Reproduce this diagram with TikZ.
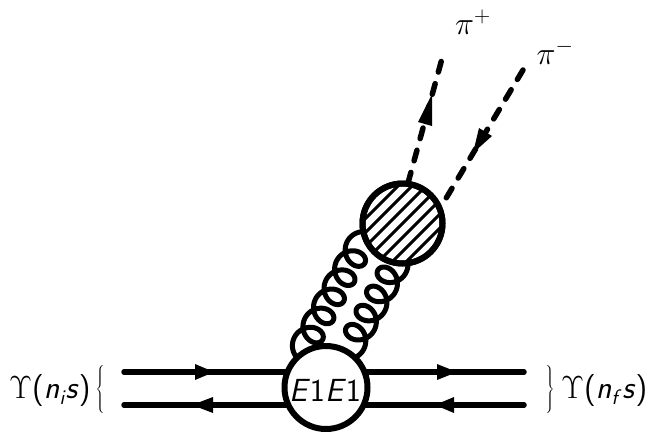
\documentclass[tikz,border=0pt]{standalone}
\usepackage{fix-cm}
\tikzset{
  x=1pt,y=-1pt,
  quark/.style={line width=5.5pt,line cap=round},
  blob/.style={circle,draw,line width=6pt,fill=white,inner sep=0pt,minimum size=#1},
  tip/.style={fill=black,draw=none},
  pion/.style={line width=5.5pt,line cap=round,dash pattern=on 11pt off 12pt},
  gluon/.style={line width=5pt,line join=round},
  lab/.style={inner sep=0pt,font=\fontsize{32}{38}\selectfont\sffamily,text=black},
  brc/.style={inner sep=0pt,font=\fontsize{17.3}{20}\selectfont,text=black}
}
\newcommand{\subtxt}[1]{\raisebox{-6pt}{\fontsize{21}{21}\selectfont\textit{#1}}}
\begin{document}
\begin{tikzpicture}
\useasboundingbox (0,0) rectangle (647,434);
% quark lines
\coordinate (la) at (124,372); \coordinate (lb) at (124,405);
\coordinate (ra) at (524,372); \coordinate (rb) at (524,405);
\draw[quark] (la) -- (ra);
\draw[quark] (lb) -- (rb);
\fill[tip] (214,372) -- (195,364) -- (195,380) -- cycle;
\fill[tip] (192,405) -- (213,397) -- (213,413) -- cycle;
\fill[tip] (457,372) -- (437,364) -- (437,380) -- cycle;
\fill[tip] (435,405) -- (454,397) -- (454,413) -- cycle;
% gluons
\draw[gluon] plot[variable=\t,domain=-1.4:32.8,samples=500,smooth]
  ({306+.48*(3.5*\t+12*sin(\t r))+.87*(-13*cos(\t r))},{343-.87*(3.5*\t+12*sin(\t r))+.48*(-13*cos(\t r))});
\draw[gluon] plot[variable=\t,domain=-1.4:26.5,samples=500,smooth]
  ({352.2+.48*(3.5*\t+12*sin(\t r))+.87*(13*cos(\t r))},{343.4-.87*(3.5*\t+12*sin(\t r))+.48*(13*cos(\t r))});
% blobs
\node[blob=83pt] (main) at (326,387.5) {};
\node[lab] (e) at (325,390) {\textit{E}1\textit{E}1};
\node[blob=80pt] (had) at (402.5,223.5) {};
\begin{scope}
\clip (402.5,223.5) circle (40);
\foreach \k in {-8,...,8}
  \draw[line width=3pt] (402.5-60+\k*7,223.5+60+\k*7) -- (402.5+60+\k*7,223.5-60+\k*7);
\end{scope}
\draw[line width=6pt] (had.center) circle (40);
% pions
\coordinate (pa) at (443,55); \coordinate (pb) at (408,183);
\coordinate (ma) at (523,70); \coordinate (mb) at (445,200);
\draw[pion] (pb) -- (pa);
\draw[pion] (ma) -- (mb);
\fill[tip] (432,94) -- (418,122) -- (432,126) -- cycle;
\fill[tip] (473,153) -- (479,128) -- (492,136) -- cycle;
% labels
\node[lab] (pip) at (473,22) {$\pi^+$};
\node[lab] (pim) at (555,52) {$\pi^-$};
\node[lab,anchor=west] (li) at (9,391) {$\Upsilon$(\textit{n}\subtxt{i}\textit{s})};
\node[brc] (bl) at (100,389) {$\left\{\vcenter{\vbox to 50pt{}}\right.\nulldelimiterspace0pt$};
\node[brc] (br) at (550,389) {$\left.\vcenter{\vbox to 50pt{}}\right\}\nulldelimiterspace0pt$};
\node[lab,anchor=west] (lf) at (561,391) {$\Upsilon$(\textit{n}\subtxt{f}\hspace{1pt}\textit{s})};
\end{tikzpicture}
\end{document}
